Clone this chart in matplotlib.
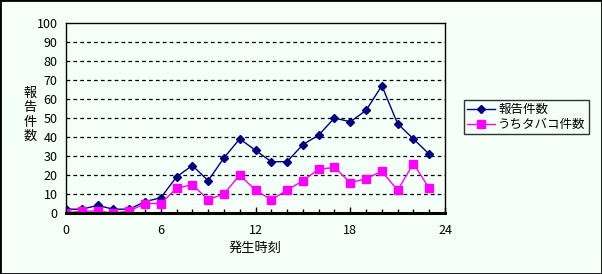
import numpy as np
import matplotlib
matplotlib.use('Agg')
from matplotlib import pyplot as plt
from matplotlib.patches import Rectangle

plt.rcParams['font.family'] = ['Noto Sans CJK JP', 'DejaVu Sans']

hours = list(range(24))
reports = [2, 2, 4, 2, 2, 6, 8, 19, 25, 17, 29, 39, 33, 27, 27, 36, 41, 50, 48, 54, 67, 47, 39, 31]
tobacco = [0, 1, 1, 0, 1, 5, 5, 13, 15, 7, 10, 20, 12, 7, 12, 17, 23, 24, 16, 18, 22, 12, 26, 13]
xticks = [0, 6, 12, 18, 24]
yticks = list(range(0, 101, 10))

bg = '#f4fff8'
fig = plt.figure(figsize=(6.02, 2.74), dpi=100, facecolor=bg)
ax = fig.add_axes([66 / 602, 61 / 274, 379 / 602, 190 / 274], facecolor=bg)

ax.plot(hours, reports, color='#000080', lw=1, marker='D', ms=4.5, label='報告件数')
ax.plot(hours, tobacco, color='#ff00ff', lw=1, marker='s', ms=5.5, label='うちタバコ件数')

ax.set_xlim(0, 24)
ax.set_ylim(0, 100)
ax.set_xticks(xticks)
ax.set_xticks(hours, minor=True)
ax.set_yticks(yticks)
for y in yticks[1:-1]:
    ax.axhline(y, color='black', lw=0.9, ls=(0, (3, 2.5)), zorder=0)

for s in ax.spines.values():
    s.set_color('black')
    s.set_linewidth(1)
ax.spines['bottom'].set_linewidth(2.2)
ax.tick_params(axis='x', which='major', direction='in', length=4, width=1, pad=8, labelsize=9)
ax.tick_params(axis='x', which='minor', direction='in', length=3, width=1)
ax.tick_params(axis='y', length=0, pad=6, labelsize=9)

fig.text(30 / 602, 1 - 115 / 274, '報\n告\n件\n数', ha='center', va='center', fontsize=9.5, linespacing=1.15)
fig.text(255 / 602, 1 - 248 / 274, '発生時刻', ha='center', va='center', fontsize=9.5)

leg = fig.legend(loc='upper left', bbox_to_anchor=(464 / 602, 1 - 100 / 274), fontsize=9,
                 frameon=True, fancybox=False, edgecolor='black', facecolor=bg,
                 handlelength=2.2, borderpad=0.25, labelspacing=0.15, handletextpad=0.3,
                 borderaxespad=0)
leg.get_frame().set_linewidth(1)

fig.patches.append(Rectangle((0, 0), 1, 1, transform=fig.transFigure, fill=False,
                             edgecolor='black', lw=2))

fig.savefig('out.png', dpi=100, facecolor=bg)
